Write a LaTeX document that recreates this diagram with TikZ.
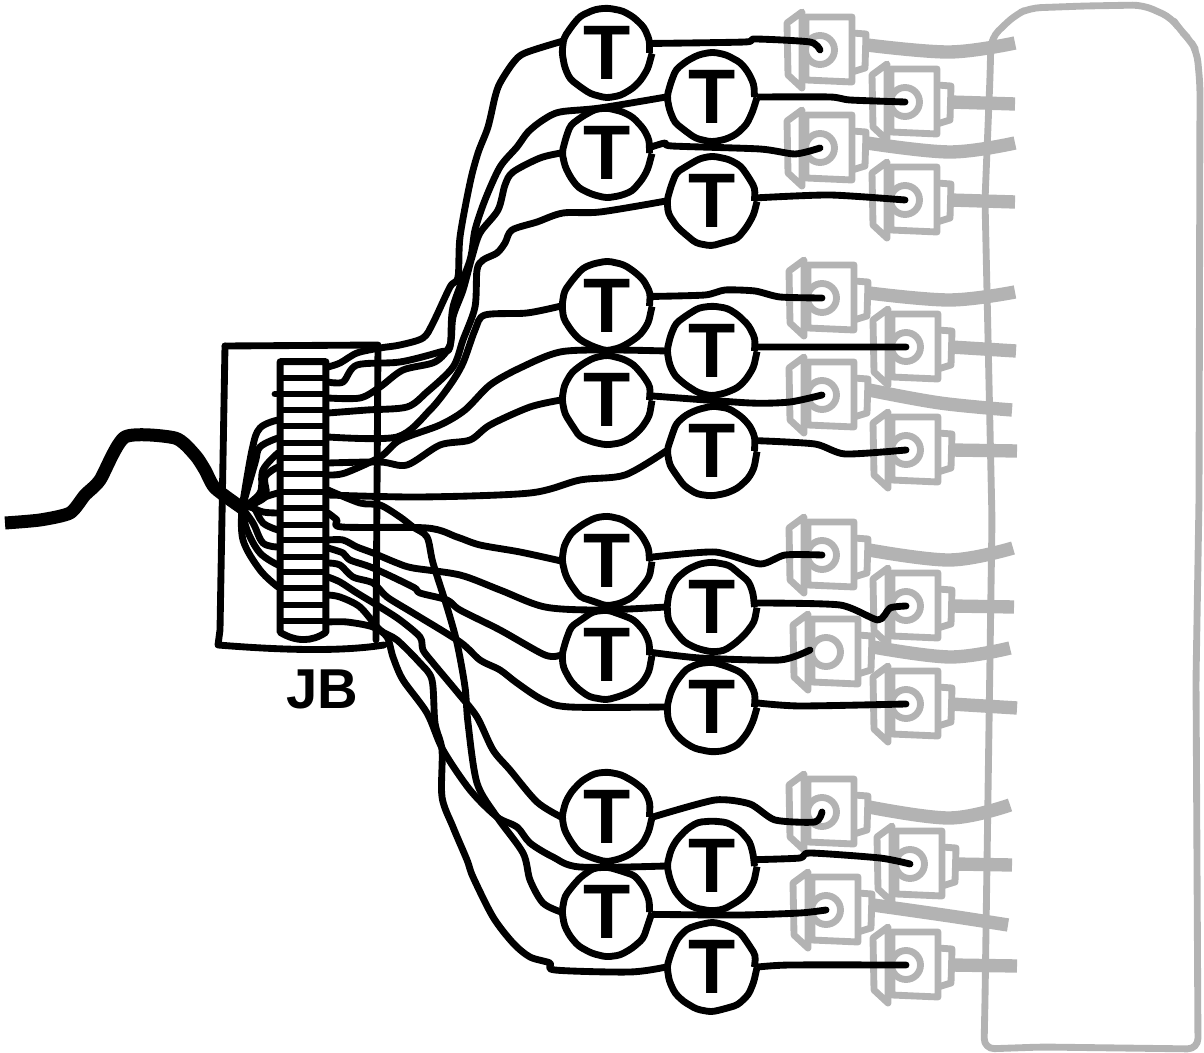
\documentclass[tikz,border=0pt]{standalone}
\usepackage{fontspec}
\setmainfont{Liberation Sans}
\usetikzlibrary{backgrounds,calc,decorations.pathmorphing}
\definecolor{gungray}{HTML}{B3B3B3}
\tikzset{
  wire/.style={draw=black,line width=3.9pt,line cap=round,line join=round},
  rung/.style={draw=black,line width=3pt},
  shell/.style={draw=gungray,line width=3.9pt,line join=round},
  hose/.style={draw=gungray,line width=7.6pt},
  tee node/.style={circle,draw=black,fill=white,line width=3.9pt,minimum size=1.7cm,inner sep=0pt,
    font=\bfseries\fontsize{44}{44}\selectfont,
    decorate,decoration={random steps,segment length=2.6mm,amplitude=.3mm},rounded corners=.8mm},
  gun/.pic={
    \draw[shell] (-14,-33) -- (32,-33) -- (32,32) -- (-14,30) -- cycle;
    \draw[shell] (-18,-38) -- (-33,-27) -- (-32,25) -- (-18,38) -- cycle;
    \draw[shell] (32,-17) -- (46,-16) -- (45,18) -- (32,22);
    \draw[shell,fill=white] (0,0) circle[radius=.29cm];
  }
}
\begin{document}
\begin{tikzpicture}[x=0.02cm,y=-0.02cm]
  \useasboundingbox (0,0) rectangle (1204,1053);

  \foreach \n/\x/\y in {1/607/53, 2/712/97, 3/607/153, 4/712/201,
    5/607/306, 6/712/351, 7/607/400, 8/712/451,
    9/607/561, 10/712/607, 11/607/655, 12/712/707,
    13/607/817, 14/712/866, 15/607/912, 16/712/967}
    \node[tee node] (t\n) at (\x,\y) {T};

  \node[minimum width=.9cm,minimum height=5.4cm,inner sep=0pt] (jb) at (303,497) {};
  \node[font=\bfseries\fontsize{32}{32}\selectfont] (jblabel) at (322,689) {JB};

  \foreach \n/\y in {1/367, 2/382, 3/398, 4/413, 5/437, 6/475, 7/463, 8/495,
    9/513, 10/540, 11/548, 12/563, 13/577, 14/622, 15/490, 16/595}
    \coordinate (p\n) at (328,\y);

  \coordinate (hub) at (242,508);
  \coordinate (lead) at (5,523);

  \begin{scope}[on background layer]
    % tank outline
    \draw[shell,rounded corners=6pt] (991,38) -- (1015,15) -- (1030,8) -- (1085,6) -- (1143,5) -- (1172,18)
      -- (1180,30) -- (1190,40) -- (1197,52) -- (1200,85) -- (1199,500) -- (1196,680) -- (1198,1049)
      -- (1042,1047) -- (984,1049) -- (985,1000) -- (992,520) -- (985,200) -- (990,77) -- cycle;

    \foreach \n/\x/\y in {1/820/50, 2/905/102, 3/820/148, 4/905/200,
      5/822/298, 6/906/347, 7/822/395, 8/906/450,
      9/822/555, 10/906/606, 11/826/652, 12/906/704,
      13/822/812, 14/910/864, 15/826/910, 16/906/965} {
      \coordinate (g\n) at (\x,\y);
      \pic at (g\n) {gun};
    }

    % hoses
    \foreach \n/\ax/\ay/\bx/\by in {1/950/52/1015/43, 3/950/152/1015/143, 5/950/300/1015/292,
      7/940/403/1012/410, 9/950/560/1013/548, 11/950/657/1010/648,
      13/950/818/1010/805, 15/950/916/1008/925}
      \draw[hose] plot[smooth,tension=.6] coordinates {($(g\n)+(47,-5)$) (\ax,\ay) (\bx,\by)};
    \foreach \n/\x/\y in {2/1015/104, 4/1015/202, 6/1016/351, 8/1017/451,
      10/1014/607, 12/1017/708, 14/1012/865, 16/1017/966}
      \draw[hose] ($(g\n)+(45,0)$) -- (\x,\y);

    % T to gun
    \draw[wire] plot[smooth,tension=.4] coordinates {(t1.12) (745,42) (755,39) (810,42) (g1)};
    \draw[wire] plot[smooth,tension=.4] coordinates {(t2.east) (830,97) (850,100) (g2)};
    \draw[wire] plot[smooth,tension=.4] coordinates {(t3.8) (665,143) (672,146) (760,149) (795,154) (g3)};
    \draw[wire] plot[smooth,tension=.4] coordinates {(t4.4) (830,195) (g4)};
    \draw[wire] plot[smooth,tension=.4] coordinates {(t5.12) (705,295) (725,290) (755,291) (780,297) (g5)};
    \draw[wire] (t6.5) -- (g6);
    \draw[wire] plot[smooth,tension=.4] coordinates {(t7.5) (750,403) (790,402) (g7)};
    \draw[wire] plot[smooth,tension=.4] coordinates {(t8.13) (815,444) (845,454) (g8)};
    \draw[wire] plot[smooth,tension=.4] coordinates {(t9.5) (715,552) (760,564) (785,555) (g9)};
    \draw[wire] plot[smooth,tension=.4] coordinates {(t10.5) (840,605) (878,620) (890,608) (g10)};
    \draw[wire] plot[smooth,tension=.4] coordinates {(t11.3) (700,658) (780,660) (810,650)};
    \draw[wire] plot[smooth,tension=.4] coordinates {(t12.5) (800,706) (g12)};
    \draw[wire] plot[smooth,tension=.4] coordinates {(t13.0) (715,800) (750,804) (775,820) (815,822) (g13)};
    \draw[wire] plot[smooth,tension=.4] coordinates {(t14.8) (800,858) (810,853) (880,858) (g14)};
    \draw[wire] plot[smooth,tension=.4] coordinates {(t15.-3) (740,915) (800,913) (g15)};
    \draw[wire] plot[smooth,tension=.4] coordinates {(t16.0) (790,965) (g16)};

    % JB to T
    \draw[wire] plot[smooth,tension=.5] coordinates {(p1) (340,363) (357,353) (380,348) (400,345) (423,338) (433,323) (450,287) (458,277) (460,237) (470,183) (478,153) (488,127) (495,97) (500,83) (513,63) (525,53) (t1.165)};
    \draw[wire] plot[smooth,tension=.5] coordinates {(p2) (343,382) (357,365) (400,362) (440,352) (450,347) (453,307) (470,260) (475,230) (485,200) (500,167) (517,147) (528,132) (543,120) (560,112) (600,108) (t2.west)};
    \draw[wire] plot[smooth,tension=.5] coordinates {(p3) (360,398) (380,387) (403,370) (435,362) (450,345) (453,317) (463,290) (472,257) (480,233) (498,210) (505,185) (513,172) (540,158) (t3.west)};
    \draw[wire] plot[smooth,tension=.5] coordinates {(p4) (367,410) (407,407) (427,392) (453,367) (463,340) (475,307) (477,270) (483,260) (497,253) (505,243) (512,230) (537,222) (563,213) (600,212) (t4.west)};
    \draw[wire] plot[smooth,tension=.5] coordinates {(p5) (397,437) (430,410) (450,385) (463,363) (475,330) (485,315) (527,313) (t5.west)};
    \draw[wire] plot[smooth,tension=.5] coordinates {(p6) (345,473) (380,457) (400,440) (440,425) (465,410) (490,385) (520,368) (560,352) (610,350) (t6.west)};
    \draw[wire] plot[smooth,tension=.5] coordinates {(p7) (380,462) (407,465) (440,445) (470,440) (490,425) (530,407) (t7.west)};
    \draw[wire] plot[smooth,tension=.5] coordinates {(p8) (420,497) (530,493) (580,480) (625,475) (t8.west)};
    \draw[wire] plot[smooth,tension=.5] coordinates {(p9) (337,520) (342,527) (427,528) (457,537) (480,545) (520,552) (t9.west)};
    \draw[wire] plot[smooth,tension=.5] coordinates {(p10) (343,540) (357,547) (373,553) (397,563) (413,568) (460,575) (500,590) (545,607) (600,610) (t10.west)};
    \draw[wire] plot[smooth,tension=.5] coordinates {(p11) (343,553) (350,560) (373,568) (413,587) (420,593) (447,600) (460,610) (500,630) (545,655) (t11.west)};
    \draw[wire] plot[smooth,tension=.5] coordinates {(p12) (340,565) (353,577) (373,583) (387,597) (413,613) (460,642) (480,660) (500,670) (517,683) (543,700) (570,707) (t12.west)};
    \draw[wire] plot[smooth,tension=.5] coordinates {(p13) (340,582) (357,593) (380,607) (400,620) (420,637) (423,650) (433,663) (458,693) (477,717) (493,750) (510,770) (537,802) (t13.west)};
    \draw[wire] plot[smooth,tension=.5] coordinates {(p14) (347,622) (373,627) (387,637) (393,657) (403,680) (427,713) (443,750) (470,790) (497,817) (517,827) (530,843) (553,857) (580,867) (t14.west)};
    \draw[wire] plot[smooth,tension=.5] coordinates {(p15) (360,503) (380,505) (400,517) (413,527) (427,537) (433,563) (447,607) (457,643) (465,687) (468,723) (477,783) (497,817) (523,853) (530,880) (543,903) (t15.west)};
    \draw[wire] plot[smooth,tension=.5] coordinates {(p16) (340,597) (360,607) (380,630) (397,640) (420,663) (432,680) (435,723) (442,750) (442,797) (453,827) (467,860) (473,877) (493,917) (513,943) (530,957) (550,963) (555,970) (630,972) (t16.west)};

    % fan behind JB
    \foreach \y/\ax/\ay/\bx/\by in {420/260/428/252/450, 438/260/447/255/463, 453/263/470/260/493, 467/265/477/265/497,
      493/265/497/255/503, 513/263/512/250/507, 530/263/523/253/507, 547/263/543/253/523,
      565/260/553/247/530, 587/260/570/243/540}
      \draw[wire] plot[smooth,tension=.6] coordinates {(278,\y) (\ax,\ay) (\bx,\by) (hub)};
    \draw[wire] (275,394) -- (jb.west |- 0,394);

    % main cable
    \draw[draw=black,line width=7.4pt,line join=round,line cap=butt] plot[smooth,tension=.4] coordinates {(lead) (40,520) (70,513) (85,495) (100,480) (125,437) (175,438) (195,455) (205,470) (215,488) (hub)};
  \end{scope}

  \foreach \y in {378,394,410,426,443,458,474,492,508,525,540,557,572,588,605,621}
    \draw[rung] (jb.west |- 0,\y) -- (jb.east |- 0,\y);
  \draw[wire] (jb.south west) -- (jb.north west) -- (jb.north east) -- (jb.south east)
    .. controls (312,642) and (296,642) .. cycle;

  % box around JB
  \draw[wire] (225,346) -- (378,345) -- (376,640);
  \draw[wire] (225,346) -- (220,630) -- (218,645) .. controls (280,650) and (340,652) .. (384,645);
\end{tikzpicture}
\end{document}
